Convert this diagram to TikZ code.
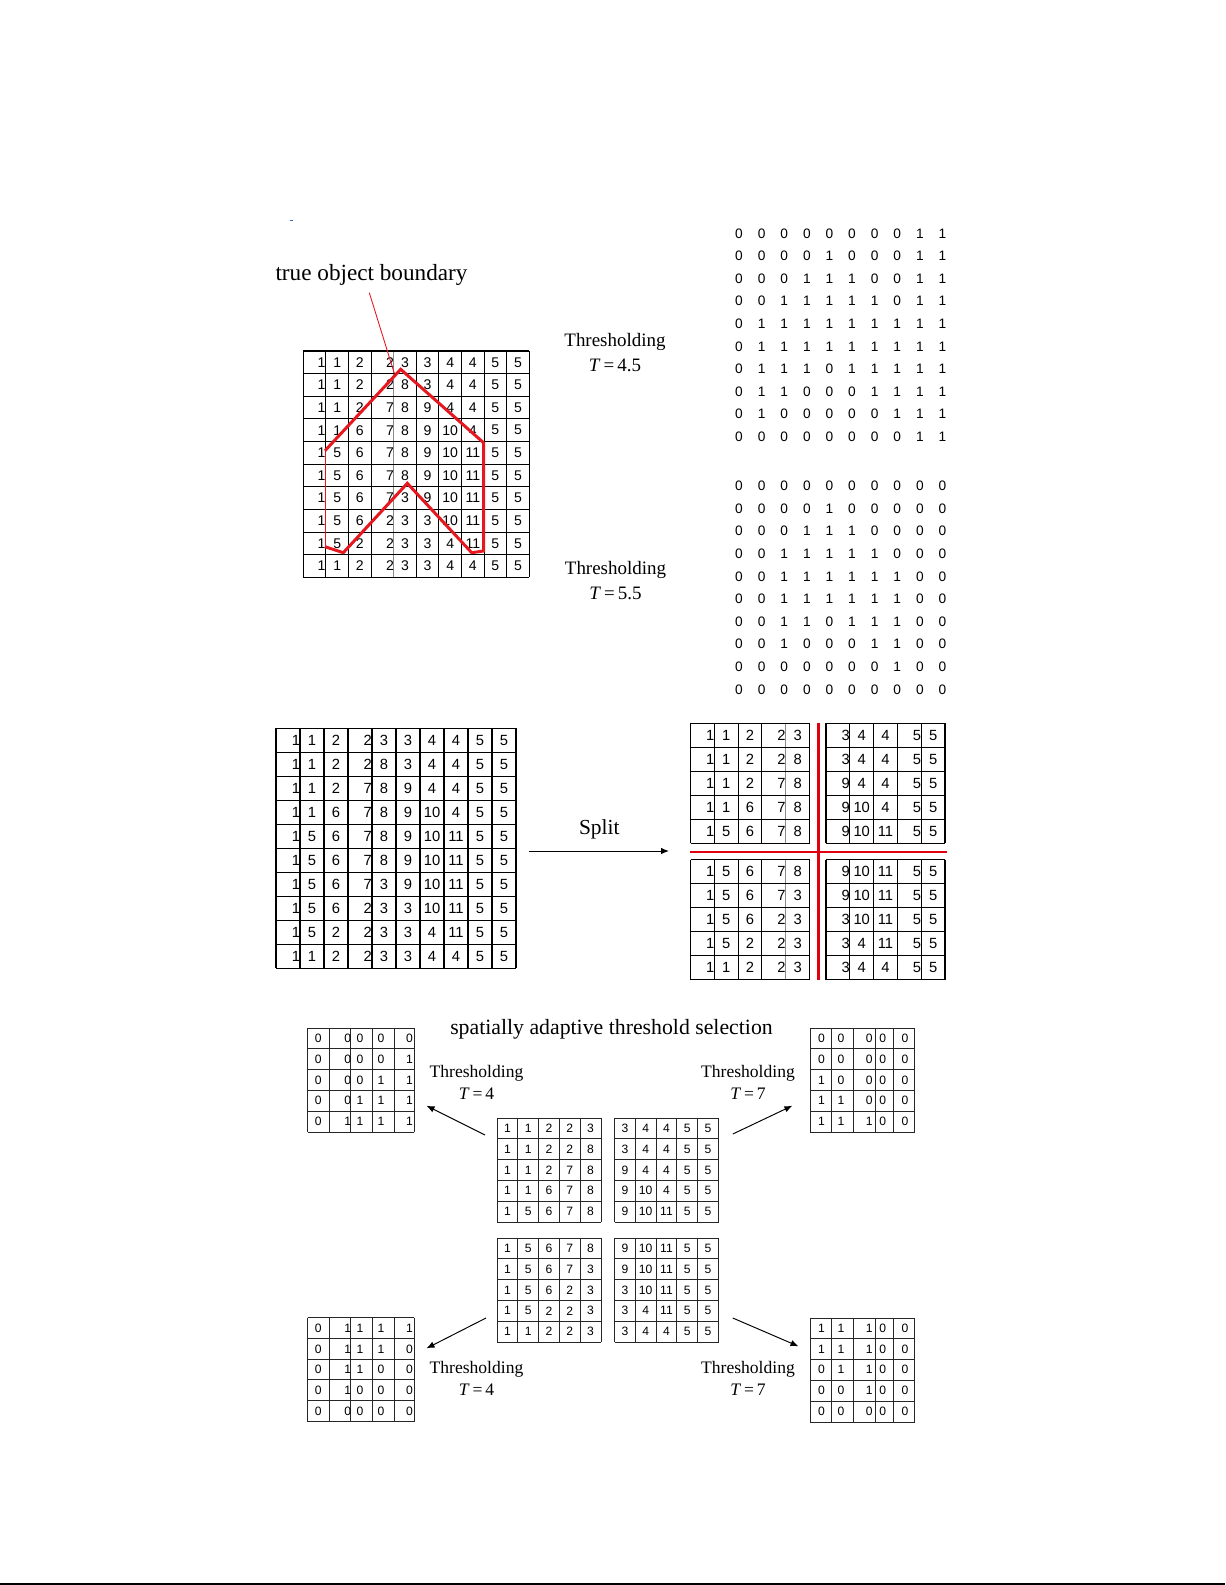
\documentclass[tikz,border=0pt]{standalone}
\usepackage{fontspec}
\setmainfont{Liberation Serif}
\setsansfont{Liberation Sans}
\usetikzlibrary{positioning, arrows.meta, calc}

\definecolor{bndred}{HTML}{E5171F}
\definecolor{cutred}{HTML}{E1000F}
\definecolor{markblue}{HTML}{2F66C8}
\definecolor{thingray}{HTML}{8A8A8A}

% gray-level image, row by row
\newcommand{\imgvals}{%
  {1,1,2,2,3,3,4,4,5,5},{1,1,2,2,8,3,4,4,5,5},{1,1,2,7,8,9,4,4,5,5},
  {1,1,6,7,8,9,10,4,5,5},{1,5,6,7,8,9,10,11,5,5},{1,5,6,7,8,9,10,11,5,5},
  {1,5,6,7,3,9,10,11,5,5},{1,5,6,2,3,3,10,11,5,5},{1,5,2,2,3,3,4,11,5,5},
  {1,1,2,2,3,3,4,4,5,5}}

\tikzset{
  G/.style={line width=0.6pt},
  Gt/.style={line width=0.4pt, draw=thingray},
  Gs/.style={line width=0.5pt, draw=black!85},
  N/.style={inner sep=0pt, font=\fontsize{8}{9}\selectfont\sffamily},
  Nm/.style={inner sep=0pt, font=\fontsize{8.4}{9}\selectfont\sffamily},
  Nb/.style={inner sep=0pt, font=\fontsize{7.8}{9}\selectfont\sffamily},
  Ns/.style={inner sep=0pt, font=\fontsize{6.9}{8}\selectfont\sffamily},
  Th/.style={align=center, inner sep=0pt, anchor=north,
    font=\fontsize{10.8}{14.2}\selectfont},
  Ths/.style={align=center, inner sep=0pt, anchor=north,
    font=\fontsize{10}{12.6}\selectfont},
  T/.style={inner sep=0pt, anchor=base},
  a/.style={-{Latex[length=1.6mm, width=1.3mm]}, line width=0.55pt},
  bnd/.style={draw=bndred, line width=1.7pt, line join=miter},
  cut/.style={draw=cutred, line width=1.6pt},
}

\begin{document}
\begin{tikzpicture}[x=0.02cm, y=-0.02cm]
\useasboundingbox (0,0) rectangle (1225,1585);

\draw[markblue, line width=0.9pt] (289.5,220.5) -- (292.5,220.5);

% ═══════════════════════════════════════════════════════════════
% (a) global thresholding of the image
% ═══════════════════════════════════════════════════════════════
\node[T, font=\fontsize{13.2}{15}\selectfont] (truelbl) at (371.5,280)
  {true object boundary};

\foreach \i in {0,1,2,3,5,6,7,8,9,10}
  \draw[G] ({303.3+22.6*\i},351) -- ({303.3+22.6*\i},577.3);
\draw[Gt] ({303.3+22.6*4},351) -- ({303.3+22.6*4},577.3);
\foreach \i in {0,...,10}
  \draw[G] (303.3,{351+22.63*\i}) -- (529.3,{351+22.63*\i});
\foreach \row [count=\r] in \imgvals {
  \foreach \v [count=\c] in \row {
    \pgfmathsetmacro{\cx}{{0.81,1.5,2.5,3.84,4.5,5.5,6.5,7.5,8.5,9.5}[\c-1]}
    \node[N] (top-\r-\c) at ({303.3+22.6*\cx},{351+22.63*(\r-0.5)}) {\v};
  }
}

% boundary polygon
\coordinate (b1) at (325,450.7);
\coordinate (b2) at (400.7,369.3);
\coordinate (b3) at (483.5,442.7);
\coordinate (b4) at (483.5,551);
\coordinate (b5) at (471.7,552.7);
\coordinate (b6) at (407.3,483.3);
\coordinate (b7) at (343.3,552.7);
\coordinate (b8) at (325,546.7);
\draw[bnd] (b8) -- (b7) -- (b6) -- (b5) -- (b4) -- (b3) -- (b2) -- (b1);
\draw[bndred, line width=0.5pt] (b1) -- (b8);
\coordinate (ptrA) at (369.3,292.7);
\coordinate (ptrB) at (394.3,373.3);
\draw[bndred, line width=0.5pt] (ptrA) -- (ptrB);

% thresholded results
\node[Th] (th45) at (615,332.7) {Thresholding\\\textit{T}\,=\,4.5};
\foreach \row [count=\r] in {{0,0,0,0,0,0,0,0,1,1},{0,0,0,0,1,0,0,0,1,1},
    {0,0,0,1,1,1,0,0,1,1},{0,0,1,1,1,1,1,0,1,1},{0,1,1,1,1,1,1,1,1,1},
    {0,1,1,1,1,1,1,1,1,1},{0,1,1,1,0,1,1,1,1,1},{0,1,1,0,0,0,1,1,1,1},
    {0,1,0,0,0,0,0,1,1,1},{0,0,0,0,0,0,0,0,1,1}}
  \foreach \v [count=\c] in \row
    \node[Nb] (hi-\r-\c) at ({739+22.6*(\c-1)},{233.5+22.57*(\r-1)}) {\v};

\node[Th] (th55) at (615.5,561.1) {Thresholding\\\textit{T}\,=\,5.5};
\foreach \row [count=\r] in {{0,0,0,0,0,0,0,0,0,0},{0,0,0,0,1,0,0,0,0,0},
    {0,0,0,1,1,1,0,0,0,0},{0,0,1,1,1,1,1,0,0,0},{0,0,1,1,1,1,1,1,0,0},
    {0,0,1,1,1,1,1,1,0,0},{0,0,1,1,0,1,1,1,0,0},{0,0,1,0,0,0,1,1,0,0},
    {0,0,0,0,0,0,0,1,0,0},{0,0,0,0,0,0,0,0,0,0}}
  \foreach \v [count=\c] in \row
    \node[Nb] (lo-\r-\c) at ({739+22.6*(\c-1)},{486+22.6*(\r-1)}) {\v};

% ═══════════════════════════════════════════════════════════════
% (b) split into four sub-images
% ═══════════════════════════════════════════════════════════════
\foreach \i in {0,...,10} {
  \draw[G] ({276+24*\i},728.3) -- ({276+24*\i},968.3);
  \draw[G] (276,{728.3+24*\i}) -- (516,{728.3+24*\i});
}
\foreach \row [count=\r] in \imgvals {
  \foreach \v [count=\c] in \row {
    \pgfmathsetmacro{\cx}{{0.83,1.5,2.5,3.82,4.5,5.5,6.5,7.5,8.5,9.5}[\c-1]}
    \node[Nm] (mid-\r-\c) at ({276+24*\cx},{728.3+24*(\r-0.5)}) {\v};
  }
}

\coordinate (splitA) at (528.6,851);
\coordinate (splitB) at (669,851);
\draw[a] (splitA) -- (splitB);
\node[T, font=\fontsize{12.2}{14}\selectfont] (splitlbl) at (599.3,834) {Split};

\foreach \qx/\qy/\mid in {690.5/723.2/Gt, 826/723.2/G, 690.5/859.5/Gt, 826/859.5/G} {
  \foreach \i in {0,1,2,3,5}
    \draw[G] ({\qx+23.8*\i},\qy) -- ({\qx+23.8*\i},{\qy+120});
  \draw[\mid] ({\qx+23.8*4},\qy) -- ({\qx+23.8*4},{\qy+120});
  \foreach \i in {0,...,5}
    \draw[G] (\qx,{\qy+24*\i}) -- ({\qx+119},{\qy+24*\i});
}
\foreach \row [count=\r] in \imgvals {
  \foreach \v [count=\c] in \row {
    \pgfmathsetmacro{\cx}{{0.83,1.5,2.5,3.82,4.5,0.83,1.5,2.5,3.82,4.5}[\c-1]}
    \pgfmathsetmacro{\qx}{\c>5 ? 826 : 690.5}
    \pgfmathsetmacro{\ry}{\r>5 ? 859.5+24*(\r-5.5) : 723.2+24*(\r-0.5)}
    \node[Nm] (spl-\r-\c) at ({\qx+23.8*\cx},\ry) {\v};
  }
}
\coordinate (cutN) at (818.7,722.5);
\coordinate (cutS) at (818.7,980);
\coordinate (cutW) at (690,852);
\coordinate (cutE) at (946.5,852);
\draw[cut] (cutN) -- (cutS);
\draw[cut] (cutW) -- (cutE);

% ═══════════════════════════════════════════════════════════════
% (c) one threshold per sub-image
% ═══════════════════════════════════════════════════════════════
\node[T, font=\fontsize{12.4}{14}\selectfont] (adalbl) at (611.5,1034.5)
  {spatially adaptive threshold selection};

\foreach \qx/\qy in {497/1118, 614.5/1118, 497/1238, 614.5/1238} {
  \foreach \i in {0,...,5} {
    \draw[Gs] ({\qx+20.8*\i},\qy) -- ({\qx+20.8*\i},{\qy+104});
    \draw[Gs] (\qx,{\qy+20.8*\i}) -- ({\qx+104},{\qy+20.8*\i});
  }
}
\foreach \row [count=\r] in \imgvals {
  \foreach \v [count=\c] in \row {
    \pgfmathsetmacro{\qx}{\c>5 ? 614.5+20.8*(\c-5.5) : 497+20.8*(\c-0.5)}
    \pgfmathsetmacro{\ry}{\r>5 ? 1238+20.8*(\r-5.5) : 1118+20.8*(\r-0.5)}
    \node[Ns] (ada-\r-\c) at (\qx,\ry) {\v};
  }
}

% binary outputs
\foreach \bx/\by in {307.5/1028, 307.5/1317.5} {
  \foreach \i in {0,...,5}
    \draw[Gs] (\bx,{\by+20.8*\i}) -- ({\bx+106.5},{\by+20.8*\i});
  \foreach \u in {0,21.8,65.2,86.5,106.5}
    \draw[Gs] ({\bx+\u},\by) -- ({\bx+\u},{\by+104});
  \draw[Gs, line width=0.8pt] ({\bx+43.2},\by) -- ({\bx+43.2},{\by+104});
}
\foreach \bx/\by in {810/1028, 810/1318} {
  \foreach \i in {0,...,5}
    \draw[Gs] (\bx,{\by+20.8*\i}) -- ({\bx+104.7},{\by+20.8*\i});
  \foreach \u in {0,21,43.5,65,83,104.7}
    \draw[Gs] ({\bx+\u},\by) -- ({\bx+\u},{\by+104});
}
\foreach \row [count=\r] in {{0,0,0,0,0,0,0,0,0,0},{0,0,0,0,1,0,0,0,0,0},
    {0,0,0,1,1,1,0,0,0,0},{0,0,1,1,1,1,1,0,0,0},{0,1,1,1,1,1,1,1,0,0},
    {0,1,1,1,1,1,1,1,0,0},{0,1,1,1,0,1,1,1,0,0},{0,1,1,0,0,0,1,1,0,0},
    {0,1,0,0,0,0,0,1,0,0},{0,0,0,0,0,0,0,0,0,0}} {
  \foreach \v [count=\c] in \row {
    \pgfmathsetmacro{\cx}{{318.3,347.7,360,381,409.5,821.5,841,869.3,882.7,905}[\c-1]}
    \pgfmathsetmacro{\ry}{\r>5 ? 1317.7+20.8*(\r-5.5) : 1028+20.8*(\r-0.5)}
    \node[Ns] (bw-\r-\c) at (\cx,\ry) {\v};
  }
}

\node[Ths] (thul) at (476.5,1065) {Thresholding\\\textit{T}\,=\,4};
\node[Ths] (thur) at (748,1065) {Thresholding\\\textit{T}\,=\,7};
\node[Ths] (thll) at (476.5,1361) {Thresholding\\\textit{T}\,=\,4};
\node[Ths] (thlr) at (748,1361) {Thresholding\\\textit{T}\,=\,7};

\coordinate (ulA) at (485,1135);   \coordinate (ulB) at (426.5,1105.7);
\coordinate (urA) at (732.8,1134); \coordinate (urB) at (792.4,1105.7);
\coordinate (llA) at (486,1318);   \coordinate (llB) at (426.5,1348.3);
\coordinate (lrA) at (732.8,1318); \coordinate (lrB) at (798.5,1346.3);
\draw[a] (ulA) -- (ulB);
\draw[a] (urA) -- (urB);
\draw[a] (llA) -- (llB);
\draw[a] (lrA) -- (lrB);

\draw[line width=1.1pt] (0,1583.8) -- (1225,1583.8);

\end{tikzpicture}
\end{document}
